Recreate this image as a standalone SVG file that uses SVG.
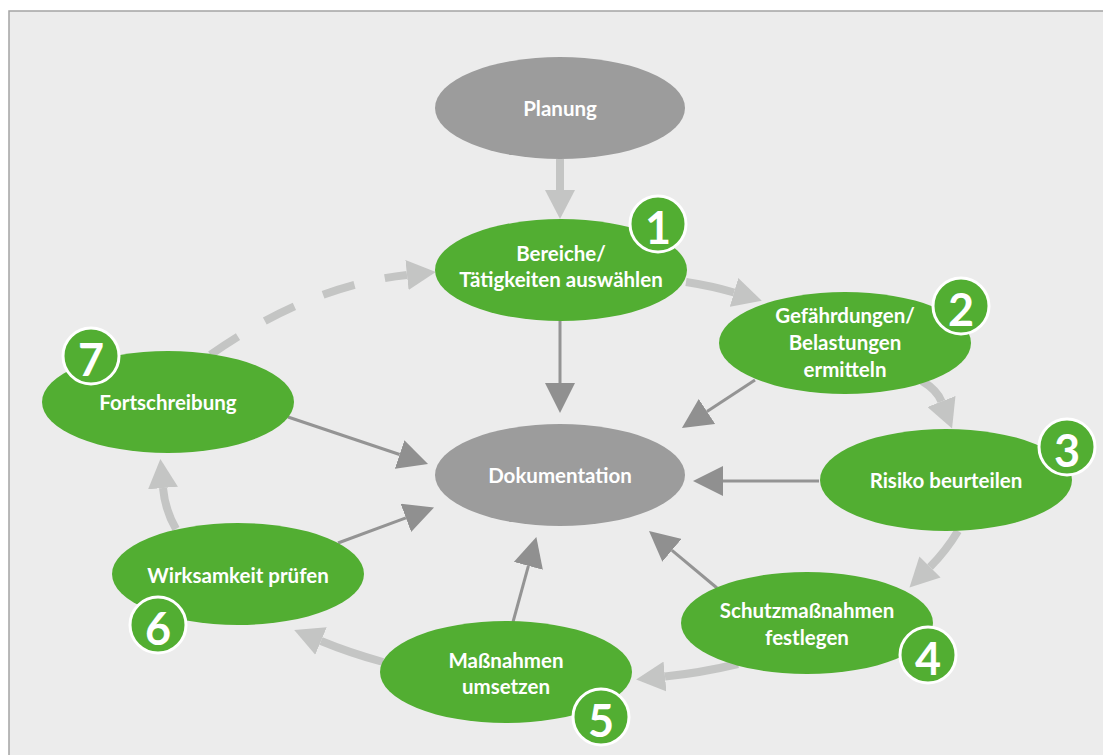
<svg xmlns="http://www.w3.org/2000/svg" width="1103" height="755" viewBox="0 0 1103 755">
  <defs>
    <marker id="headLight" markerUnits="userSpaceOnUse" markerWidth="30" markerHeight="30" refX="0" refY="15" orient="auto" viewBox="0 0 30 30">
      <path d="M0,0 L29,15 L0,30 z" fill="#c4c5c4"/>
    </marker>
    <marker id="headDark" markerUnits="userSpaceOnUse" markerWidth="30" markerHeight="30" refX="0" refY="15" orient="auto" viewBox="0 0 30 30">
      <path d="M0,0 L30,15 L0,30 z" fill="#909090"/>
    </marker>
  </defs>
  <style>
    .flow { fill: none; stroke: #c4c5c4; stroke-width: 8; marker-end: url(#headLight); }
    .dash { stroke-dasharray: 33 31; stroke-dashoffset: 55; }
    .doc { fill: none; stroke: #949494; stroke-width: 3; marker-end: url(#headDark); }
    .step { fill: #52ae32; }
    .gray { fill: #9c9c9c; }
    .label { font-family: Lato, "Liberation Sans", sans-serif; font-weight: 700; font-size: 20.5px; fill: #ffffff; text-anchor: middle; }
    .badge circle { fill: #52ae32; stroke: #ffffff; stroke-width: 3; }
    .badge text { font-family: Lato, "Liberation Sans", sans-serif; font-weight: 700; font-size: 45px; fill: #ffffff; text-anchor: middle; }
  </style>

  <!-- page and frame -->
  <rect x="0" y="0" width="1103" height="755" fill="#ffffff"/>
  <rect x="9" y="11" width="1110" height="760" fill="#ececec" stroke="#a4a4a4" stroke-width="1.5"/>

  <!-- connectors -->
  <g id="connectors">
    <!-- process flow -->
    <path class="flow" d="M560,159 L560,190"/>
    <path class="flow" d="M686,282 Q712,286 734,292.5"/>
    <path class="flow" d="M922,381 Q937,390 941.5,401.5"/>
    <path class="flow" d="M958,531 Q946,551 930,567"/>
    <path class="flow" d="M738,664 Q700,673 665,676.5"/>
    <path class="flow" d="M383,662 Q350,653 321,641"/>
    <path class="flow" d="M176,529 Q165,510 163,488"/>
    <path class="flow dash" d="M203,360 Q305.6,285.9 407,275"/>
    <!-- documentation links -->
    <path class="doc" d="M560,321 L560,383"/>
    <path class="doc" d="M755,380 L707,411.5"/>
    <path class="doc" d="M819,481 L723,481"/>
    <path class="doc" d="M717,588 L672,550.3"/>
    <path class="doc" d="M513,622 L528.4,565.9"/>
    <path class="doc" d="M338,543 L405.9,517.9"/>
    <path class="doc" d="M288,417 L399.6,454.5"/>
  </g>

  <g id="planung">
    <ellipse class="gray" cx="560" cy="108" rx="125" ry="51"/>
    <text class="label" x="560" y="116">Planung</text>
  </g>

  <g id="dokumentation">
    <ellipse class="gray" cx="560" cy="475" rx="125" ry="51"/>
    <text class="label" x="560" y="483">Dokumentation</text>
  </g>

  <g id="step1">
    <ellipse class="step" cx="561" cy="270" rx="126" ry="51"/>
    <text class="label" x="561" y="261">Bereiche/</text>
    <text class="label" x="561" y="287">Tätigkeiten auswählen</text>
    <g class="badge"><circle cx="658" cy="224" r="28"/><text x="658" y="244">1</text></g>
  </g>

  <g id="step2">
    <ellipse class="step" cx="845" cy="343" rx="126" ry="51"/>
    <text class="label" x="845" y="323">Gefährdungen/</text>
    <text class="label" x="845" y="350">Belastungen</text>
    <text class="label" x="845" y="377">ermitteln</text>
    <g class="badge"><circle cx="961" cy="306" r="28"/><text x="961" y="326">2</text></g>
  </g>

  <g id="step3">
    <ellipse class="step" cx="946" cy="480" rx="126" ry="51"/>
    <text class="label" x="946" y="488">Risiko beurteilen</text>
    <g class="badge"><circle cx="1067" cy="447" r="28"/><text x="1067" y="467">3</text></g>
  </g>

  <g id="step4">
    <ellipse class="step" cx="807" cy="623" rx="126" ry="51"/>
    <text class="label" x="807" y="618">Schutzmaßnahmen</text>
    <text class="label" x="807" y="645">festlegen</text>
    <g class="badge"><circle cx="928" cy="655" r="28"/><text x="928" y="675">4</text></g>
  </g>

  <g id="step5">
    <ellipse class="step" cx="506" cy="672" rx="126" ry="51"/>
    <text class="label" x="506" y="668">Maßnahmen</text>
    <text class="label" x="506" y="694">umsetzen</text>
    <g class="badge"><circle cx="601" cy="717" r="28"/><text x="601" y="737">5</text></g>
  </g>

  <g id="step6">
    <ellipse class="step" cx="238" cy="574" rx="126" ry="51"/>
    <text class="label" x="238" y="583">Wirksamkeit prüfen</text>
    <g class="badge"><circle cx="158" cy="625" r="28"/><text x="158" y="645">6</text></g>
  </g>

  <g id="step7">
    <ellipse class="step" cx="168" cy="402" rx="126" ry="51"/>
    <text class="label" x="168" y="410">Fortschreibung</text>
    <g class="badge"><circle cx="91" cy="356" r="28"/><text x="91" y="376">7</text></g>
  </g>
</svg>
